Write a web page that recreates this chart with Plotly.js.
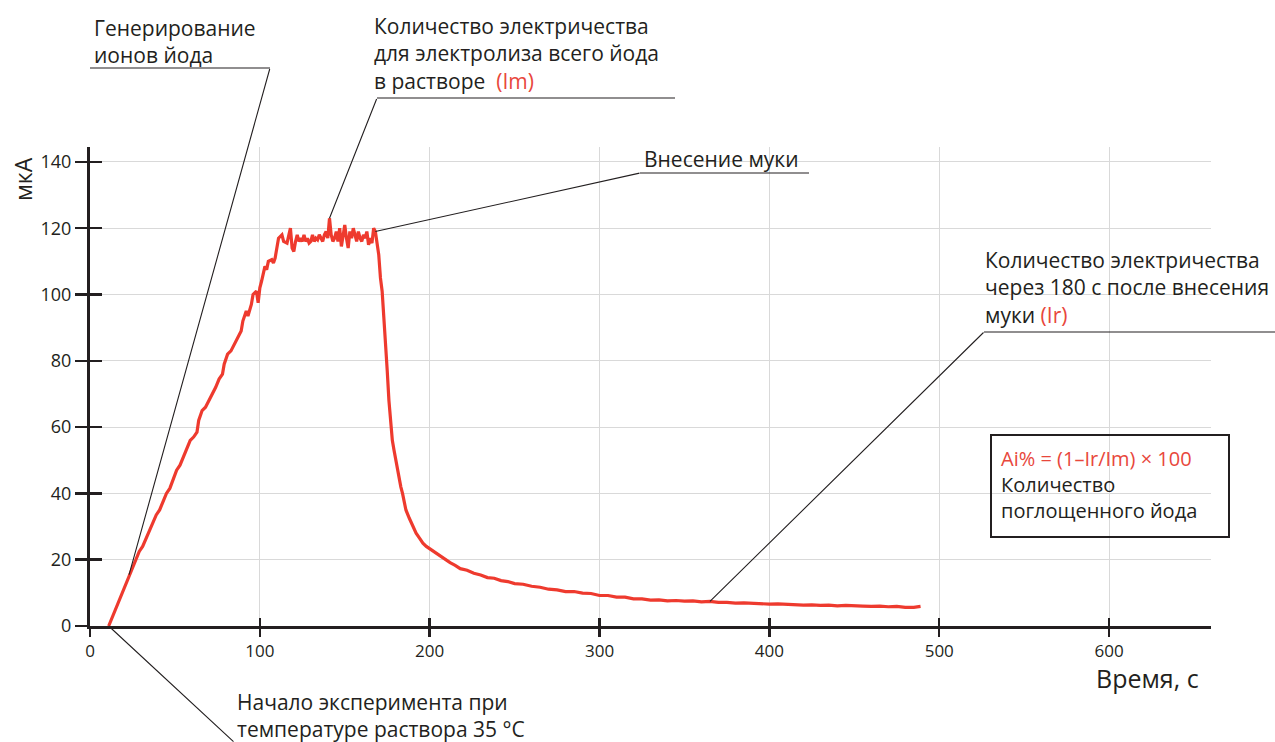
<!DOCTYPE html>
<html>
<head>
<meta charset="utf-8">
<script src="https://cdn.plot.ly/plotly-3.0.1.min.js"></script>
<style>html,body{margin:0;padding:0;background:#fff;}#chart{width:1275px;height:742px;}</style>
</head>
<body>
<div id="chart"></div>
<script>
// ---- Data ----
const time = [
  11,13,15,17,19,21,23,25,27,29,31,33,35,37,39,41,43,45,47,49,51,53,55,57,59,61,63,64,66,68,70,72,74,76,78,79,81,83,85,87,89,90,92,93,95,96,98,99,100,101,102,103,104,105,107,108,109,110,111,113,114,116,117,118,119,120,121,122,123,124,125,126,127,128,129,130,131,132,133,134,135,136,137,138,139,140,141,142,143,144,145,146,147,148,149,150,151,152,153,154,155,156,157,158,159,160,161,162,163,164,165,166,167,168,169,170,171,172,173,174,175,176,177,178,179,180,181,182,183,184,185,186,188,190,192,194,196,198,200,203,206,209,212,215,218,222,226,230,234,238,242,246,250,255,260,265,270,275,280,285,290,295,300,305,310,315,320,325,330,335,340,345,350,355,360,365,370,375,380,385,390,395,400,405,410,415,420,425,430,435,440,445,450,455,460,465,470,475,480,485,489
];
const current = [
  0,2.5,5,7.5,10,13,15.5,17.5,20,22.5,24,26.5,28.5,31,33.5,35,37.5,40,41.5,44,47,48.5,51,54,56,57,58.5,62,65,66,68,69.5,72,74.5,76,79,82,83,85,87.5,89,92,95,93.5,97,100,101,97.5,102,104,106.5,108.5,107.5,110,110.5,109.5,111,114,117,118,116,115.5,118,120,114,113,116,118,116,117,116,118,116,117,115.5,116,118,116,117,116.5,118,117,116,118,119,117,123,118,116,117,119,116,120,114.5,118,121,117,114,119,117,120,118,116,119,117,116,118,117,119,115,117,115.5,120,119,116,112,105,101,93,86,77,68,61,56,53,50,47,44,42,40,37.5,35,32.5,30,28,26.5,25,24,23.3,22.2,21,20.2,19.1,18.3,17.3,16.8,15.9,15.4,14.6,14.4,13.7,13.4,12.8,12.6,12.0,11.7,11.1,10.9,10.4,10.4,9.9,9.8,9.2,9.2,8.7,8.7,8.2,8.2,7.8,7.9,7.6,7.7,7.5,7.6,7.3,7.4,7.1,7.1,6.9,7.0,6.8,6.8,6.6,6.7,6.5,6.5,6.3,6.4,6.2,6.3,6.1,6.2,6.0,6.0,5.9,6.0,5.8,5.9,5.6,5.6,5.9
];
const xTicks = [0, 100, 200, 300, 400, 500, 600];
const yTicks = [0, 20, 40, 60, 80, 100, 120, 140];
const xTitle = 'Время, с';
const yTitle = 'мкА';
const labelGen = ['Генерирование', 'ионов йода'];
const labelIm = ['Количество электричества', 'для электролиза всего йода', 'в растворе  <span style="color:#e8473c">(Im)</span>'];
const labelFlour = ['Внесение муки'];
const labelIr = ['Количество электричества', 'через 180 с после внесения', 'муки <span style="color:#e8473c">(Ir)</span>'];
const labelBox = ['<span style="color:#e8473c">Ai% = (1–Ir/Im) × 100</span>', 'Количество', 'поглощенного йода'];
const labelStart = ['Начало эксперимента при', 'температуре раствора 35 °C'];

// ---- Layout geometry ----
const W = 1275, H = 742;
const M = {l: 90, r: 64, t: 147, b: 116};
const PW = W - M.l - M.r, PH = H - M.t - M.b;
const XR = [0, 660], YR = [0, 144.5];
const px2paperX = p => (p - M.l) / PW;
const px2paperY = p => (M.t + PH - p) / PH;
const xpx = v => M.l + (v - XR[0]) / (XR[1] - XR[0]) * PW;
const ypx = v => M.t + PH - (v - YR[0]) / (YR[1] - YR[0]) * PH;

const DARK = '#231f20', RED = '#ee3a2e', GRID = '#d9d9d9';
const FONT = 'Open Sans, Noto Sans, sans-serif';

// head points on the curve, taken from the data arrays
const iGen = time.indexOf(23);
const iIm = current.indexOf(Math.max(...current));
const iFlour = time.indexOf(168);
const iIr = time.indexOf(365);
const iStart = 0;

function leader(i, tailPx, tailPy) {
  return {
    x: time[i], y: current[i], xref: 'x', yref: 'y',
    ax: tailPx - xpx(time[i]), ay: tailPy - ypx(current[i]),
    text: ' ', font: {size: 1}, borderpad: 0,
    showarrow: true, arrowhead: 0, arrowwidth: 1.1, arrowcolor: DARK, standoff: 0
  };
}
function textBlock(lines, leftPx, midPy, size) {
  return {
    x: px2paperX(leftPx), y: px2paperY(midPy), xref: 'paper', yref: 'paper',
    xanchor: 'left', yanchor: 'middle', align: 'left', showarrow: false, borderpad: 0,
    text: lines.join('<br>'), font: {family: FONT, size: size, color: DARK}
  };
}
function hline(x0, x1, py) {
  return {type: 'line', xref: 'paper', yref: 'paper',
    x0: px2paperX(x0), x1: px2paperX(x1), y0: px2paperY(py), y1: px2paperY(py),
    line: {color: DARK, width: 1.1}, layer: 'above'};
}

const annotations = [
  textBlock(labelGen, 93, 41, 21),
  textBlock(labelIm, 373, 53.5, 21),
  textBlock(labelFlour, 643, 159, 21),
  textBlock(labelIr, 984, 287.5, 21),
  textBlock(labelBox, 1000, 484.5, 20),
  textBlock(labelStart, 236, 715.5, 21),
  leader(iGen, 270, 68),
  leader(iIm, 377, 98),
  leader(iFlour, 640, 173),
  leader(iIr, 984, 332),
  leader(iStart, 234, 745),
  {x: px2paperX(23), y: px2paperY(179), xref: 'paper', yref: 'paper', textangle: -90,
   xanchor: 'center', yanchor: 'middle', showarrow: false, text: yTitle,
   font: {family: FONT, size: 23, color: DARK}},
  {x: px2paperX(1147), y: px2paperY(678), xref: 'paper', yref: 'paper',
   xanchor: 'center', yanchor: 'middle', showarrow: false, text: xTitle,
   font: {family: FONT, size: 25, color: DARK}}
];

const shapes = [
  hline(90, 270, 68),
  hline(377, 675, 98),
  hline(640, 809, 173),
  hline(984, 1280, 332),
  {type: 'rect', xref: 'paper', yref: 'paper',
   x0: px2paperX(991), x1: px2paperX(1229), y0: px2paperY(435), y1: px2paperY(537),
   line: {color: DARK, width: 2}, fillcolor: 'rgba(0,0,0,0)', layer: 'above'}
];

const traces = [
  {x: time, y: current, type: 'scatter', mode: 'lines',
   line: {color: RED, width: 3.2}, hoverinfo: 'skip'},
  {x: [], y: [], type: 'scatter', mode: 'lines', xaxis: 'x2', yaxis: 'y2', hoverinfo: 'skip'}
];

const axBase = {
  showline: true, linecolor: DARK, linewidth: 3, zeroline: false,
  showgrid: true, gridcolor: GRID, gridwidth: 1,
  ticks: 'outside', tickcolor: DARK, tickwidth: 2.5, tickmode: 'array',
  fixedrange: true
};

const layout = {
  width: W, height: H, margin: {l: M.l, r: M.r, t: M.t, b: M.b, pad: 0},
  paper_bgcolor: '#fff', plot_bgcolor: '#fff', showlegend: false,
  font: {family: FONT, color: DARK},
  xaxis: Object.assign({}, axBase, {range: XR, tickvals: xTicks, ticklen: 8,
    tickfont: {family: FONT, size: 17, color: DARK}}),
  yaxis: Object.assign({}, axBase, {range: YR, tickvals: yTicks, ticklen: 12,
    tickfont: {family: FONT, size: 18, color: DARK}}),
  xaxis2: {overlaying: 'x', anchor: 'y', range: XR, tickmode: 'array', tickvals: xTicks,
    ticks: 'inside', ticklen: 8, tickwidth: 2.5, tickcolor: DARK, showticklabels: false,
    showgrid: false, showline: false, zeroline: false, fixedrange: true},
  yaxis2: {overlaying: 'y', anchor: 'x', side: 'left', range: YR, tickmode: 'array', tickvals: yTicks,
    ticks: 'inside', ticklen: 12, tickwidth: 2.5, tickcolor: DARK, showticklabels: false,
    showgrid: false, showline: false, zeroline: false, fixedrange: true},
  annotations: annotations,
  shapes: shapes
};

Plotly.newPlot('chart', traces, layout, {staticPlot: true, displayModeBar: false});
</script>
</body>
</html>
